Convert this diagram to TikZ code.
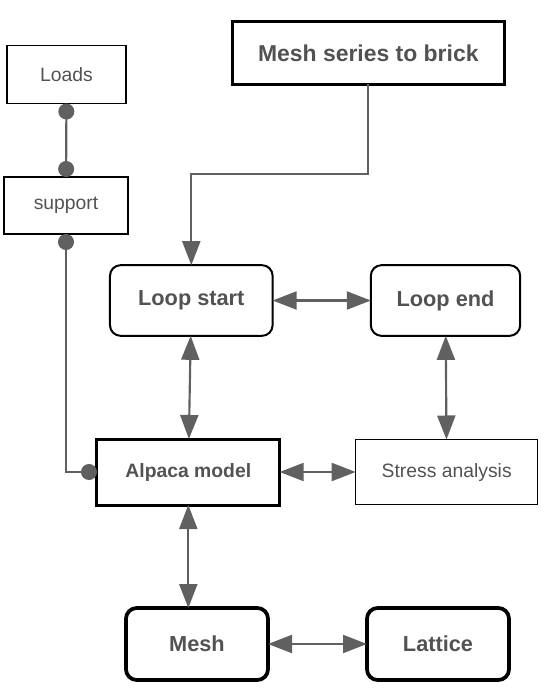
\documentclass[tikz,border=0pt]{standalone}
\usepackage{fontspec}
\setmainfont{Liberation Sans}
\usetikzlibrary{arrows.meta,positioning}
\definecolor{inkgray}{RGB}{82,82,82}
\definecolor{wiregray}{RGB}{96,96,96}

\begin{document}
\begin{tikzpicture}[
  x=0.75pt,y=-0.75pt,
  every node/.style={text=inkgray,outer sep=0pt,align=center},
  plainbox/.style={draw,line width=1pt,font=\fontsize{14.5}{17}\selectfont},
  heavybox/.style={draw,line width=2.25pt,font=\fontsize{14.5}{17}\selectfont\bfseries},
  roundbox/.style={draw,line width=1.5pt,rounded corners=8pt,minimum width=#1,minimum height=53pt,font=\fontsize{16.3}{19}\selectfont\bfseries},
  roundheavy/.style={draw,line width=2.8pt,rounded corners=8pt,minimum width=106.5pt,minimum height=54pt,font=\fontsize{16.3}{19}\selectfont\bfseries},
  arr/.style={-{Triangle[length=18pt,width=13.5pt]},draw=wiregray,line width=1.6pt},
  biarr/.style={{Triangle[length=18pt,width=13.5pt]}-{Triangle[length=18pt,width=13.5pt]},draw=wiregray,line width=1.6pt},
  dotlink/.style={{Circle[length=12pt]}-{Circle[length=12pt]},draw=wiregray,line width=1.6pt}
]
\useasboundingbox (0,0) rectangle (543,695);
\node[plainbox,minimum width=89.25pt,minimum height=43.5pt] (loads) at (66.5,74.5) {Loads};
\node[plainbox,minimum width=93pt,minimum height=42.75pt] (support) at (66,205.5) {support};
\node[heavybox,minimum width=204pt,minimum height=47pt,font=\fontsize{17.2}{20}\selectfont\bfseries] (brick) at (368.3,53) {Mesh series to brick};
\node[roundbox=122pt] (loopstart) at (191.3,300.5) {Loop start};
\node[roundbox=112pt] (loopend) at (445.5,300.5) {Loop end};
\node[heavybox,minimum width=137pt,minimum height=49.5pt] (alpaca) at (188.3,472) {Alpaca model};
\node[plainbox,minimum width=136.5pt,minimum height=48.75pt] (stress) at (446.7,472) {Stress analysis};
\node[roundheavy] (mesh) at (197,644) {Mesh};
\node[roundheavy] (lattice) at (438,644) {Lattice};
\draw[dotlink] (loads) -- (support);
\draw[dotlink] (support.south) |- (alpaca.west);
\draw[arr] (brick.south) -- ++(0,90) -| (loopstart.north);
\draw[biarr] (loopstart) -- (loopend);
\draw[biarr] (loopstart) -- (alpaca);
\draw[biarr] (loopend) -- (stress);
\draw[biarr] (alpaca) -- (stress);
\draw[biarr] (alpaca.south) -- (alpaca.south |- mesh.north);
\draw[biarr] (mesh) -- (lattice);
\end{tikzpicture}
\end{document}
